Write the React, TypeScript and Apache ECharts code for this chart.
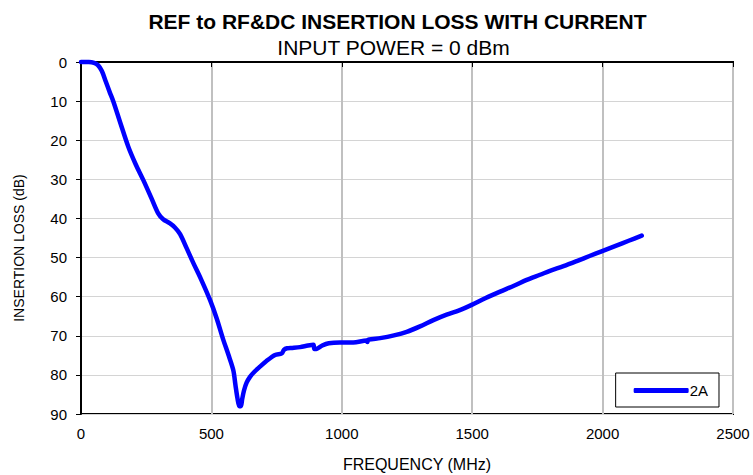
import React, { useEffect, useRef } from "react";
import * as echarts from "echarts";

const frequencyMHz = [
  0, 30, 50, 65, 80, 95, 110, 124, 150, 181, 210, 239, 270, 296, 315, 340, 360, 380, 405, 430,
  460, 495, 520, 546, 565, 584, 592, 600, 607, 613, 618, 625, 635, 648, 665, 686, 710, 744, 770,
  778, 790, 810, 840, 870, 891, 895, 905, 925, 950, 993, 1044, 1095, 1098, 1102, 1147, 1200, 1249,
  1300, 1351, 1402, 1450, 1498, 1550, 1607, 1660, 1709, 1760, 1798, 1850, 1901, 1950, 1996, 2050,
  2100, 2150,
];
const insertionLoss2A = [
  0, 0, 0.2, 0.8, 2.3, 5.0, 7.7, 10.1, 15.4, 21.6, 26.2, 30.2, 34.8, 38.7, 40.2, 41.2, 42.3, 44.0,
  47.6, 51.3, 55.5, 60.9, 65.5, 71.1, 74.8, 78.8, 82.5, 86.0, 88.0, 88.0, 86.2, 84.0, 82.0, 80.5,
  79.2, 77.9, 76.5, 74.9, 74.5, 73.6, 73.2, 73.1, 72.9, 72.5, 72.3, 73.4, 73.3, 72.5, 71.9, 71.7,
  71.7, 71.2, 71.6, 71.0, 70.6, 69.9, 69.0, 67.6, 66.0, 64.6, 63.5, 62.1, 60.4, 58.7, 57.2, 55.7,
  54.4, 53.4, 52.2, 50.9, 49.6, 48.4, 47.0, 45.7, 44.4,
];
const titleText = "REF to RF&DC INSERTION LOSS WITH CURRENT";
const subtitleText = "INPUT POWER = 0 dBm";
const seriesName = "2A";

const FONT = "'Liberation Sans', Arial, sans-serif";

export default function App() {
  const ref = useRef<HTMLDivElement>(null);
  useEffect(() => {
    if (!ref.current) return;
    const chart = echarts.init(ref.current, undefined, { renderer: "svg" });
    const data = frequencyMHz.map((f, i) => [f, insertionLoss2A[i]]);
    chart.setOption({
      animation: false,
      backgroundColor: "#ffffff",
      textStyle: { fontFamily: FONT },
      graphic: [
        {
          type: "text",
          x: 397.5,
          y: 21.8,
          style: {
            text: titleText,
            font: `bold 21px ${FONT}`,
            fill: "#000",
            textAlign: "center",
            textVerticalAlign: "middle",
          },
        },
        {
          type: "text",
          x: 393.5,
          y: 47.8,
          style: {
            text: subtitleText,
            font: `21px ${FONT}`,
            fill: "#000",
            textAlign: "center",
            textVerticalAlign: "middle",
          },
        },
      ],
      grid: {
        left: 81,
        top: 62,
        right: 20,
        bottom: 61,
        outerBoundsMode: "none",
        containLabel: false,
        show: true,
        borderColor: "#000",
        borderWidth: 2,
        backgroundColor: "#fff",
      },
      legend: {
        right: 34,
        top: 373,
        orient: "vertical",
        backgroundColor: "#fff",
        borderColor: "#000",
        borderWidth: 1,
        borderRadius: 0,
        padding: [10, 11, 9, 18],
        itemWidth: 55,
        itemHeight: 5,
        icon: "roundRect",
        textStyle: { fontFamily: FONT, fontSize: 15, color: "#000", padding: [0, 0, 0, -4] },
        data: [seriesName],
      },
      xAxis: {
        type: "value",
        min: 0,
        max: 2500,
        interval: 500,
        name: "FREQUENCY (MHz)",
        nameLocation: "middle",
        nameGap: 42,
        nameTextStyle: { fontFamily: FONT, fontSize: 16, color: "#000", padding: [0, 0, 0, 20] },
        axisLine: { show: true, lineStyle: { color: "#000", width: 2 } },
        axisTick: { show: true, inside: false, length: 5, lineStyle: { color: "#000", width: 1 } },
        axisLabel: {
          fontFamily: FONT,
          fontSize: 15,
          color: "#000",
          margin: 12,
          formatter: (v: number) => String(v),
        },
        splitLine: { show: true, lineStyle: { color: "#c0c0c0", width: 2 } },
      },
      yAxis: {
        type: "value",
        inverse: true,
        min: 0,
        max: 90,
        interval: 10,
        name: "INSERTION LOSS (dB)",
        nameLocation: "middle",
        nameGap: 55,
        nameTextStyle: { fontFamily: FONT, fontSize: 14, color: "#000", padding: [0, 20, 0, 0] },
        axisLine: { show: true, lineStyle: { color: "#000", width: 2 } },
        axisTick: { show: true, inside: false, length: 5, lineStyle: { color: "#000", width: 1 } },
        axisLabel: { fontFamily: FONT, fontSize: 15, color: "#000", margin: 14 },
        splitLine: { show: true, lineStyle: { color: "#d4d4d4", width: 1 } },
      },
      series: [
        {
          name: seriesName,
          type: "line",
          data,
          showSymbol: false,
          symbol: "none",
          smooth: 0.3,
          clip: false,
          color: "#0000ff",
          lineStyle: { color: "#0000ff", width: 4.5, cap: "round", join: "round" },
        },
      ],
    });
    return () => chart.dispose();
  }, []);
  return <div ref={ref} style={{ width: 753, height: 475, position: "absolute", left: 0, top: 0 }} />;
}
